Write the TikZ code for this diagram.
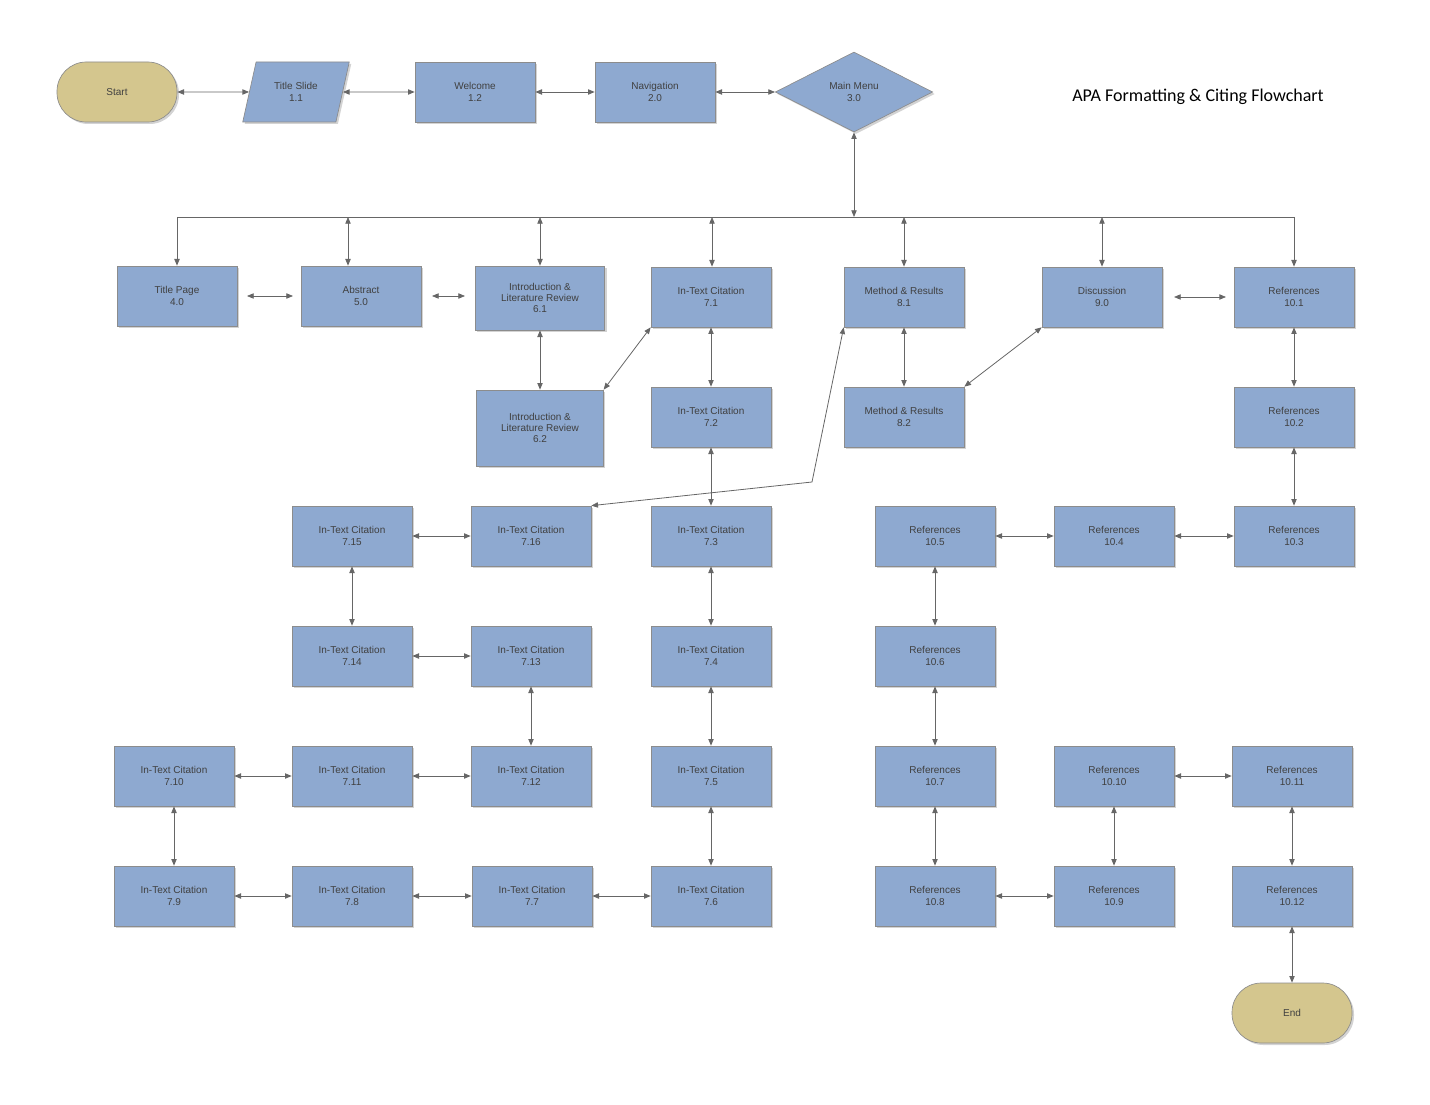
\documentclass[tikz,border=0pt]{standalone}
\usepackage{fontspec}
\setmainfont{Liberation Sans}
\newfontfamily\titlefont{Carlito}
\usetikzlibrary{shapes.geometric,arrows.meta,shadows}
\begin{document}
\begin{tikzpicture}[x=0.75pt,y=-0.75pt,
  box/.style={draw=black!45,fill=blue!25!cyan!10!gray!45!blue!30,fill={rgb,255:red,142;green,169;blue,208},line width=0.5pt,minimum width=90pt,minimum height=45pt,inner sep=1pt,align=center,font=\fontsize{7.5}{8.5}\selectfont,text=black!75,drop shadow={shadow xshift=1.5pt,shadow yshift=-1.5pt,opacity=0.35}},
  term/.style={box,rounded corners=22pt,fill={rgb,255:red,212;green,198;blue,142}},
  con/.style={draw=black!60,line width=0.6pt,{Triangle[length=5pt,width=4pt]}-{Triangle[length=5pt,width=4pt]}},
  one/.style={draw=black!60,line width=0.6pt,-{Triangle[length=5pt,width=4pt]}}]
\useasboundingbox (0,0) rectangle (1430,1105);
\node[term] (start) at (117,92) {Start};
\node[box,trapezium,trapezium left angle=70,trapezium right angle=110,minimum width=80pt,trapezium stretches=true] (ts) at (296,92) {Title Slide\\1.1};
\node[box] (wel) at (475,92) {Welcome\\1.2};
\node[box] (nav) at (655,92) {Navigation\\2.0};
\node[box,diamond,aspect=2,minimum width=118pt,minimum height=60pt,inner sep=0pt] (mm) at (854,92) {Main Menu\\3.0};
\node[font=\titlefont\fontsize{13.5}{15}\selectfont] (title) at (1198,97) {APA Formatting \& Citing Flowchart};
\draw[con] (start) -- (ts);
\draw[con] (ts) -- (wel);
\draw[con] (wel) -- (nav);
\draw[con] (nav) -- (mm);
% row 1
\node[box] (tp) at (177,296) {Title Page\\4.0};
\node[box] (ab) at (361,296) {Abstract\\5.0};
\node[box,minimum width=97pt,minimum height=48pt] (i61) at (540,298) {Introduction \&\\Literature Review\\6.1};
\node[box] (c1) at (711,297) {In-Text Citation\\7.1};
\node[box] (m81) at (904,297) {Method \& Results\\8.1};
\node[box] (dis) at (1102,297) {Discussion\\9.0};
\node[box] (r1) at (1294,297) {References\\10.1};
% bus
\coordinate (bl) at (177,217); \coordinate (br) at (1294,217); \coordinate (bm) at (854,217);
\draw[draw=black!60,line width=0.6pt] (bl) -- (br);
\draw[con] (bm) -- (mm);
\draw[one] (bl) -- (tp);
\draw[one] (br) -- (r1);
\foreach \x/\n in {348/ab,540/i61,712/c1,904/m81,1102/dis}{
  \coordinate (t\n) at (\x,217);
  \draw[con] (t\n) -- (\x,0|-\n.north);
}
\coordinate (g1a) at (247,296); \coordinate (g1b) at (293,296);
\coordinate (g2a) at (432,296); \coordinate (g2b) at (465,296);
\coordinate (g3a) at (1174,297); \coordinate (g3b) at (1226,297);
\draw[con] (g1a) -- (g1b); \draw[con] (g2a) -- (g2b); \draw[con] (g3a) -- (g3b);
% row 2
\node[box,minimum width=95pt,minimum height=57pt] (i62) at (540,428) {Introduction \&\\Literature Review\\6.2};
\node[box] (c2) at (711,417) {In-Text Citation\\7.2};
\node[box] (m82) at (904,417) {Method \& Results\\8.2};
\node[box] (r2) at (1294,417) {References\\10.2};
\draw[con] (i61) -- (i62);
\draw[con] (i62.north east) -- (c1.south west);
\draw[con] (c1) -- (c2);
\draw[con] (m81) -- (m82);
\draw[con] (m82.north east) -- (dis.south west);
\draw[con] (r1) -- (r2);
% rows 3-6
\foreach \n/\t/\x/\y in {c15/7.15/352/536,c16/7.16/531/536,c3/7.3/711/536,
  c14/7.14/352/656,c13/7.13/531/656,c4/7.4/711/656,
  c10/7.10/174/776,c11/7.11/352/776,c12/7.12/531/776,c5/7.5/711/776,
  c9/7.9/174/896,c8/7.8/352/896,c7/7.7/532/896,c6/7.6/711/896}
  \node[box] (\n) at (\x,\y) {In-Text Citation\\\t};
\foreach \n/\t/\x/\y in {r5/10.5/935/536,r4/10.4/1114/536,r3/10.3/1294/536,
  r6/10.6/935/656,r7/10.7/935/776,r10/10.10/1114/776,r11/10.11/1292/776,
  r8/10.8/935/896,r9/10.9/1114/896,r12/10.12/1292/896}
  \node[box] (\n) at (\x,\y) {References\\\t};
\node[term] (end) at (1292,1013) {End};
\coordinate (bend) at (812,482);
\draw[con] (m81.south west) -- (bend) -- (c16.north east);
\foreach \a/\b in {c2/c3,c3/c4,c4/c5,c5/c6,c6/c7,c7/c8,c8/c9,c9/c10,c10/c11,c11/c12,c12/c13,c13/c14,c14/c15,c15/c16,
  r2/r3,r3/r4,r4/r5,r5/r6,r6/r7,r7/r8,r8/r9,r9/r10,r10/r11,r11/r12,r12/end}
  \draw[con] (\a) -- (\b);
\end{tikzpicture}
\end{document}
